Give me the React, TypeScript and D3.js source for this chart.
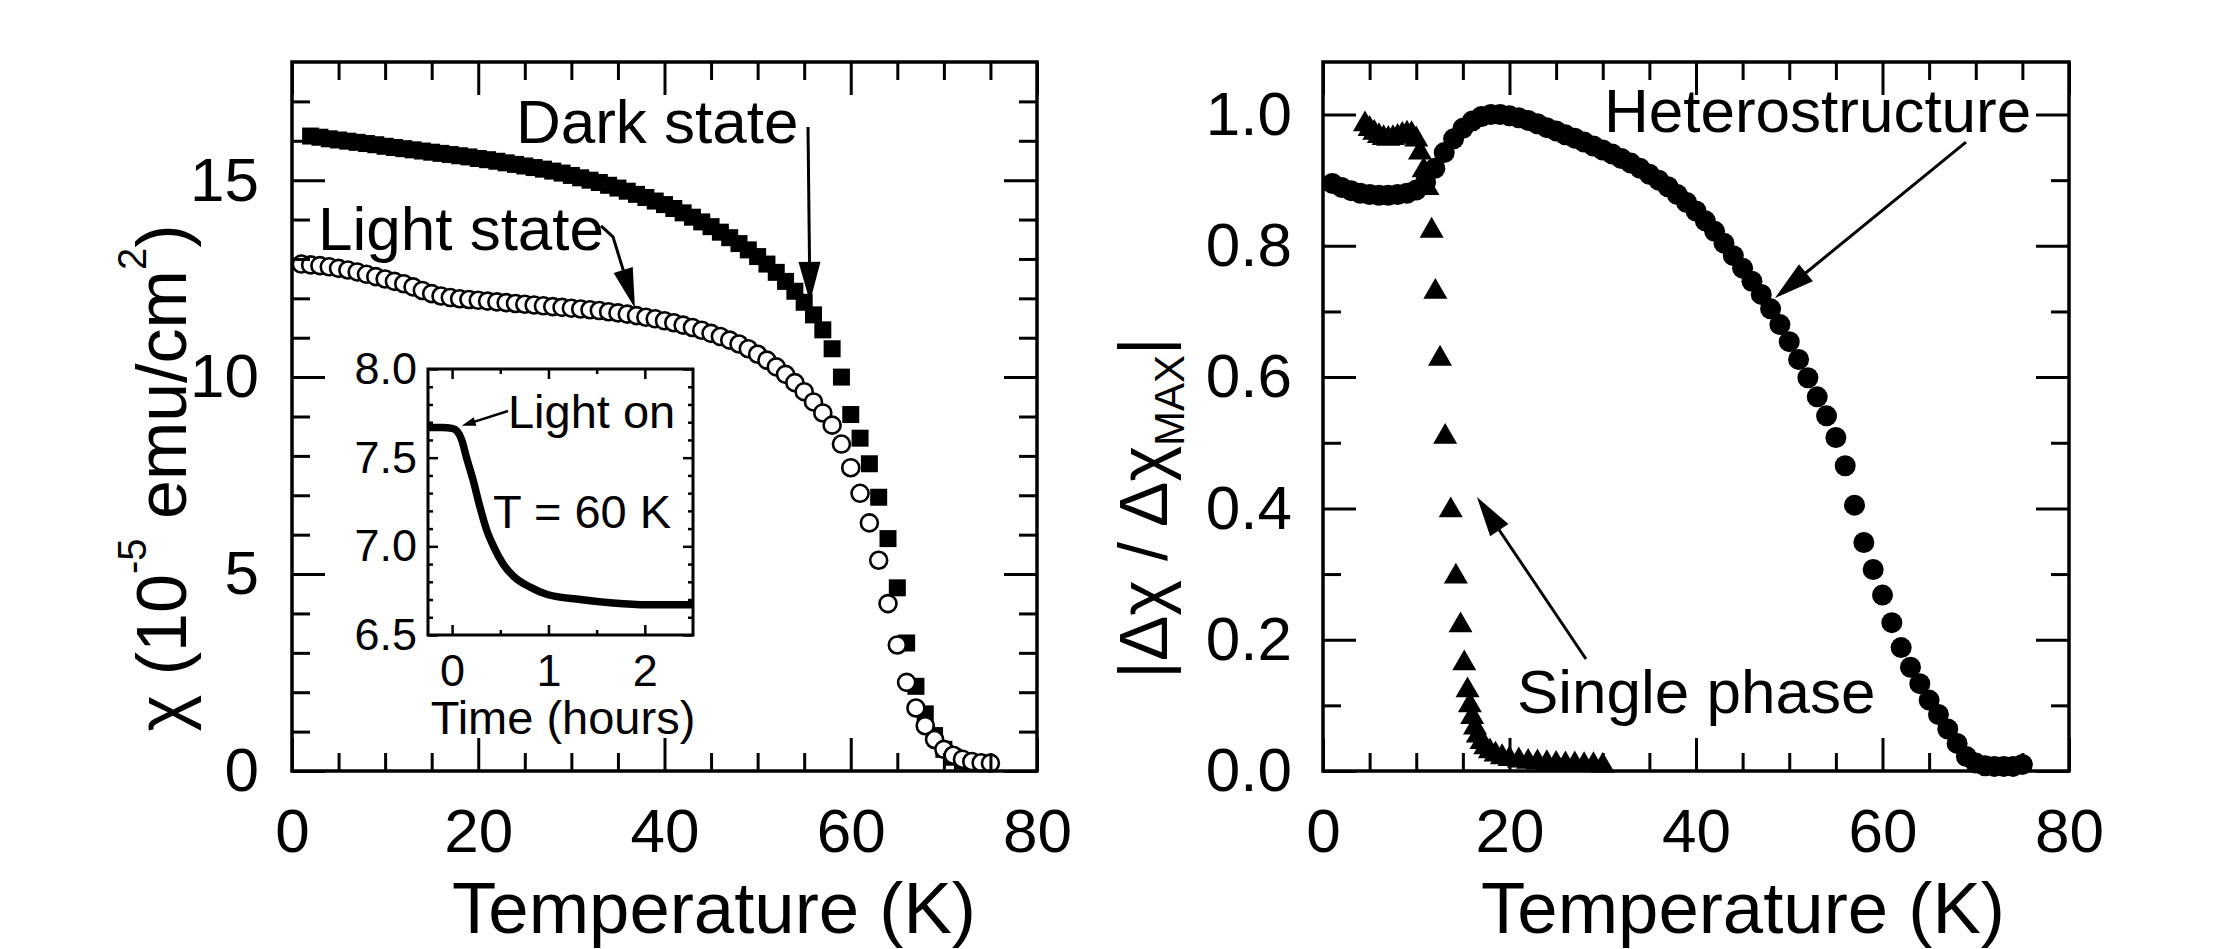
import React, { useRef, useEffect } from 'react';
import * as d3 from 'd3';

const W = 2213;
const H = 949;
const FONT = '"Liberation Sans", Arial, Helvetica, sans-serif';

// ---- left panel: chi vs T (dark / light state) ----
const darkT = [2, 3, 4, 5, 6, 7, 8, 9, 10, 11, 12, 13, 14, 15, 16, 17, 18, 19, 20, 21, 22, 23, 24, 25, 26, 27, 28, 29, 30,
  31, 32, 33, 34, 35, 36, 37, 38, 39, 40, 41, 42, 43, 44, 45, 46, 47, 48, 49, 50, 51, 52, 53, 54, 55, 56, 57, 58, 59, 60,
  61, 62, 63, 64, 65, 66, 67, 68, 69, 70, 71, 72, 73];
const darkChi = [16.12, 16.09, 16.05, 16.02, 15.99, 15.96, 15.93, 15.9, 15.86, 15.83, 15.8, 15.77, 15.74, 15.71, 15.68,
  15.65, 15.62, 15.59, 15.55, 15.52, 15.48, 15.44, 15.4, 15.36, 15.32, 15.28, 15.23, 15.18, 15.12, 15.06, 15.0, 14.94,
  14.87, 14.8, 14.72, 14.64, 14.56, 14.47, 14.38, 14.28, 14.17, 14.06, 13.94, 13.82, 13.68, 13.54, 13.39, 13.23, 13.06,
  12.87, 12.66, 12.43, 12.18, 11.9, 11.58, 11.2, 10.72, 10.0, 9.05, 8.45, 7.8, 6.95, 5.9, 4.65, 3.25, 2.15, 1.45, 0.9,
  0.55, 0.35, 0.25, 0.2];

const lightT = [1, 2, 3, 4, 5, 6, 7, 8, 9, 10, 11, 12, 13, 14, 15, 16, 17, 18, 19, 20, 21, 22, 23, 24, 25, 26, 27, 28, 29,
  30, 31, 32, 33, 34, 35, 36, 37, 38, 39, 40, 41, 42, 43, 44, 45, 46, 47, 48, 49, 50, 51, 52, 53, 54, 55, 56, 57, 58, 59,
  60, 61, 62, 63, 64, 65, 66, 67, 68, 69, 70, 71, 72, 73, 74, 75];
const lightChi = [12.87, 12.85, 12.83, 12.8, 12.76, 12.72, 12.67, 12.61, 12.55, 12.49, 12.43, 12.37, 12.29, 12.2, 12.12,
  12.06, 12.02, 11.99, 11.97, 11.95, 11.93, 11.91, 11.89, 11.87, 11.85, 11.83, 11.81, 11.79, 11.77, 11.75, 11.73, 11.71,
  11.69, 11.66, 11.63, 11.6, 11.56, 11.52, 11.48, 11.43, 11.38, 11.32, 11.26, 11.19, 11.11, 11.03, 10.94, 10.84, 10.72,
  10.58, 10.43, 10.26, 10.07, 9.86, 9.63, 9.37, 9.09, 8.78, 8.3, 7.7, 7.05, 6.3, 5.35, 4.25, 3.2, 2.25, 1.6, 1.15, 0.8,
  0.55, 0.4, 0.3, 0.24, 0.21, 0.2];

// ---- inset: chi vs time at 60 K ----
const insetHours = [-0.25, -0.1, 0.0, 0.05, 0.1, 0.15, 0.22, 0.29, 0.36, 0.43, 0.53, 0.64, 0.81, 0.98, 1.33, 1.67, 2.02, 2.5];
const insetChi = [7.67, 7.67, 7.665, 7.65, 7.6, 7.5, 7.37, 7.22, 7.09, 7.0, 6.9, 6.83, 6.77, 6.73, 6.7, 6.68, 6.67, 6.67];

// ---- right panel: normalized change ----
const heteroT = [1, 2, 3, 4, 5, 6, 7, 8, 9, 10, 11, 12, 13, 14, 15, 16, 17, 18, 19, 20, 21, 22, 23, 24, 25, 26, 27, 28, 29,
  30, 31, 32, 33, 34, 35, 36, 37, 38, 39, 40, 41, 42, 43, 44, 45, 46, 47, 48, 49, 50, 51, 52, 53, 54, 55, 56, 57, 58, 59,
  60, 61, 62, 63, 64, 65, 66, 67, 68, 69, 70, 71, 72, 73, 74, 75];
const heteroVal = [0.895, 0.889, 0.884, 0.88, 0.878, 0.877, 0.877, 0.878, 0.88, 0.885, 0.897, 0.918, 0.942, 0.963, 0.979,
  0.99, 0.997, 1.0, 1.0, 0.998, 0.995, 0.991, 0.986, 0.98, 0.975, 0.969, 0.964, 0.958, 0.952, 0.946, 0.94, 0.933, 0.926,
  0.918, 0.909, 0.9, 0.89, 0.878, 0.866, 0.853, 0.838, 0.822, 0.804, 0.785, 0.766, 0.746, 0.726, 0.704, 0.68, 0.654,
  0.627, 0.599, 0.57, 0.541, 0.508, 0.465, 0.405, 0.348, 0.307, 0.268, 0.226, 0.188, 0.158, 0.133, 0.108, 0.086, 0.064,
  0.042, 0.022, 0.012, 0.008, 0.007, 0.007, 0.007, 0.01];

const singleT = [4.5, 5, 5.5, 6, 6.5, 7, 7.5, 8, 8.5, 9, 9.5, 10, 10.4, 10.8, 11.2, 11.65, 12.05, 12.55, 13.1, 13.7, 14.25,
  14.75, 15.15, 15.5, 15.75, 16.0, 16.3, 16.6, 17.0, 17.4, 17.9, 18.5, 19.2, 20, 21, 22, 23, 24, 25, 26, 27, 28, 29, 30];
const singleVal = [0.985, 0.978, 0.972, 0.967, 0.964, 0.963, 0.964, 0.966, 0.969, 0.971, 0.97, 0.962, 0.942, 0.915, 0.888,
  0.823, 0.73, 0.628, 0.509, 0.397, 0.296, 0.222, 0.164, 0.123, 0.1, 0.082, 0.066, 0.054, 0.044, 0.036, 0.03, 0.025,
  0.021, 0.018, 0.016, 0.014, 0.013, 0.012, 0.011, 0.01, 0.01, 0.009, 0.009, 0.008];

// ticks
const tempMajor = [0, 20, 40, 60, 80];
const tempMinor = [5, 10, 15, 25, 30, 35, 45, 50, 55, 65, 70, 75];
const chiMajor = [0, 5, 10, 15];
const chiMinor = [1, 2, 3, 4, 6, 7, 8, 9, 11, 12, 13, 14, 16, 17];
const normMajor = [0, 0.2, 0.4, 0.6, 0.8, 1.0];
const normMinor = [0.1, 0.3, 0.5, 0.7, 0.9];
const hoursMajor = [0, 1, 2];
const hoursMinor = [0.5, 1.5];
const insetChiMajor = [6.5, 7.0, 7.5, 8.0];
const insetChiMinor = [6.6, 6.7, 6.8, 6.9, 7.1, 7.2, 7.3, 7.4, 7.6, 7.7, 7.8, 7.9];

type Sel = d3.Selection<any, any, any, any>;

function frameAxes(g: Sel, x: any, y: any, o: any) {
  const [x0, x1] = x.range();
  const [y0, y1] = y.range();
  const add = (axis: any, tr: string, labels: boolean) => {
    const a = g.append('g').attr('transform', tr).call(axis);
    a.select('.domain').remove();
    a.attr('font-family', FONT).attr('font-size', o.fs);
    a.selectAll('line').attr('stroke', '#000').attr('stroke-width', o.tw);
    a.selectAll('text').attr('fill', '#000');
    if (!labels) a.selectAll('text').remove();
    return a;
  };
  const none = () => '';
  add(d3.axisBottom(x).tickValues(o.xMinor).tickSize(-o.minor).tickFormat(none), `translate(0,${y0})`, false);
  add(d3.axisBottom(x).tickValues(o.xMajor).tickSize(-o.major).tickPadding(o.xPad).tickFormat(o.xFmt), `translate(0,${y0})`, true);
  add(d3.axisTop(x).tickValues(o.xMinor).tickSize(-o.minor).tickFormat(none), `translate(0,${y1})`, false);
  add(d3.axisTop(x).tickValues(o.xMajor).tickSize(-o.major).tickFormat(none), `translate(0,${y1})`, false);
  add(d3.axisLeft(y).tickValues(o.yMinor).tickSize(-o.minor).tickFormat(none), `translate(${x0},0)`, false);
  add(d3.axisLeft(y).tickValues(o.yMajor).tickSize(-o.major).tickPadding(o.yPad).tickFormat(o.yFmt), `translate(${x0},0)`, true);
  add(d3.axisRight(y).tickValues(o.yMinor).tickSize(-o.minor).tickFormat(none), `translate(${x1},0)`, false);
  add(d3.axisRight(y).tickValues(o.yMajor).tickSize(-o.major).tickFormat(none), `translate(${x1},0)`, false);
  g.append('rect')
    .attr('x', x0).attr('y', y1).attr('width', x1 - x0).attr('height', y0 - y1)
    .attr('fill', 'none').attr('stroke', '#000').attr('stroke-width', o.fw);
}

function arrow(g: Sel, pts: [number, number][], head: number, width: number, sw: number) {
  const n = pts.length;
  const [xa, ya] = pts[n - 2];
  const [xb, yb] = pts[n - 1];
  const ang = Math.atan2(yb - ya, xb - xa);
  const bx = xb - head * Math.cos(ang);
  const by = yb - head * Math.sin(ang);
  const line = pts.slice(0, n - 1).concat([[bx + Math.cos(ang) * 2, by + Math.sin(ang) * 2]]);
  g.append('path').attr('d', d3.line()(line as any)).attr('fill', 'none').attr('stroke', '#000').attr('stroke-width', sw);
  const px = -Math.sin(ang) * width / 2;
  const py = Math.cos(ang) * width / 2;
  g.append('path')
    .attr('d', `M${xb},${yb}L${bx + px},${by + py}L${bx - px},${by - py}Z`)
    .attr('fill', '#000');
}

function label(g: Sel, xp: number, yp: number, text: string, fs: number, anchor = 'start') {
  return g.append('text').attr('x', xp).attr('y', yp).attr('font-size', fs).attr('font-family', FONT)
    .attr('text-anchor', anchor).attr('fill', '#000').text(text);
}

export default function App() {
  const ref = useRef<SVGSVGElement>(null);

  useEffect(() => {
    const svg = d3.select(ref.current);
    svg.selectAll('*').remove();
    svg.append('rect').attr('width', W).attr('height', H).attr('fill', '#fff');

    const top = 62;
    const bottom = 771;
    const tickOpts = { major: 33, minor: 18, tw: 3, fw: 3.5, fs: 62, xPad: 37, yPad: 33, xFmt: d3.format('d') };

    // ---------- left panel ----------
    const xL = d3.scaleLinear().domain([0, 80]).range([292, 1037]);
    const yL = d3.scaleLinear().domain([0, 18]).range([bottom, top]);
    const gL = svg.append('g');

    const sq = d3.symbol().type(d3.symbolSquare).size(17 * 17);
    gL.append('g').selectAll('path').data(d3.zip(darkT, darkChi)).join('path')
      .attr('transform', (d: any) => `translate(${xL(d[0])},${yL(d[1])})`)
      .attr('d', sq as any).attr('fill', '#000');
    gL.append('g').selectAll('circle').data(d3.zip(lightT, lightChi)).join('circle')
      .attr('cx', (d: any) => xL(d[0])).attr('cy', (d: any) => yL(d[1])).attr('r', 8.5)
      .attr('fill', '#fff').attr('stroke', '#000').attr('stroke-width', 2.6);

    frameAxes(gL, xL, yL, { ...tickOpts, xMajor: tempMajor, xMinor: tempMinor, yMajor: chiMajor, yMinor: chiMinor, yFmt: d3.format('d') });

    label(gL, xL(24.05), yL(15.94), 'Dark state', 62);
    arrow(gL, [[xL(55.41), yL(16.35)], [xL(55.62), yL(11.91)]], 40, 22, 3);
    label(gL, xL(2.79), yL(13.23), 'Light state', 62);
    arrow(gL, [[xL(33.18), yL(13.84)], [xL(34.47), yL(13.56)], [xL(36.83), yL(11.75)]], 40, 20, 3);

    // inset
    const xI = d3.scaleLinear().domain([-0.25, 2.5]).range([428, 693]);
    const yI = d3.scaleLinear().domain([6.5, 8.0]).range([635, 369]);
    const gI = svg.append('g');
    gI.append('rect').attr('x', 428).attr('y', 369).attr('width', 265).attr('height', 266).attr('fill', '#fff');
    const lineI = d3.line<[number, number]>().x(d => xI(d[0])).y(d => yI(d[1])).curve(d3.curveMonotoneX);
    gI.append('path').attr('d', lineI(d3.zip(insetHours, insetChi) as any))
      .attr('fill', 'none').attr('stroke', '#000').attr('stroke-width', 7.5).attr('stroke-linejoin', 'round');
    frameAxes(gI, xI, yI, {
      major: 10, minor: 5, tw: 2.5, fw: 3, fs: 45, xPad: 19, yPad: 11,
      xMajor: hoursMajor, xMinor: hoursMinor, yMajor: insetChiMajor, yMinor: insetChiMinor,
      xFmt: d3.format('d'), yFmt: d3.format('.1f'),
    });
    label(gI, xI(0.58), yI(7.667), 'Light on', 47);
    arrow(gI, [[xI(0.58), yI(7.763)], [xI(0.1), yI(7.68)]], 14, 9, 2.5);
    label(gI, xI(0.425), yI(7.103), 'T = 60 K', 47);
    label(gI, 563, 734, 'Time (hours)', 47, 'middle');

    // axis titles left
    label(svg, 714, 933, 'Temperature (K)', 72.5, 'middle');
    const yt = svg.append('text').attr('transform', 'translate(186,478) rotate(-90)')
      .attr('text-anchor', 'middle').attr('font-family', FONT).attr('font-size', 70).attr('fill', '#000');
    yt.append('tspan').text('χ (10');
    yt.append('tspan').attr('font-size', 40).attr('dy', -40).text('-5');
    yt.append('tspan').attr('dy', 40).text(' emu/cm');
    yt.append('tspan').attr('font-size', 40).attr('dy', -40).text('2');
    yt.append('tspan').attr('dy', 40).text(')');

    // ---------- right panel ----------
    const xR = d3.scaleLinear().domain([0, 80]).range([1323, 2069]);
    const yR = d3.scaleLinear().domain([0, 1.08]).range([bottom, top]);
    const gR = svg.append('g');
    const circ = d3.symbol().type(d3.symbolCircle).size(Math.PI * 10.5 * 10.5);
    const tri = d3.symbol().type(d3.symbolTriangle).size(250);
    gR.append('g').selectAll('path').data(d3.zip(heteroT, heteroVal)).join('path')
      .attr('transform', (d: any) => `translate(${xR(d[0])},${yR(d[1])})`)
      .attr('d', circ as any).attr('fill', '#000');
    gR.append('g').selectAll('path').data(d3.zip(singleT, singleVal)).join('path')
      .attr('transform', (d: any) => `translate(${xR(d[0])},${yR(d[1])})`)
      .attr('d', tri as any).attr('fill', '#000');

    frameAxes(gR, xR, yR, { ...tickOpts, yPad: 31, xMajor: tempMajor, xMinor: tempMinor, yMajor: normMajor, yMinor: normMinor, yFmt: d3.format('.1f') });

    label(gR, xR(30.13), yR(0.974), 'Heterostructure', 62);
    arrow(gR, [[xR(68.95), yR(0.958)], [xR(48.47), yR(0.7205)]], 40, 22, 3);
    label(gR, xR(20.8), yR(0.0883), 'Single phase', 62);
    arrow(gR, [[xR(28.2), yR(0.1706)], [xR(16.51), yR(0.4174)]], 40, 22, 3);

    label(svg, 1743, 933, 'Temperature (K)', 72.5, 'middle');
    const yr = svg.append('text').attr('transform', 'translate(1167,508) rotate(-90)')
      .attr('text-anchor', 'middle').attr('font-family', FONT).attr('font-size', 68).attr('fill', '#000');
    yr.append('tspan').text('|Δχ / Δχ');
    yr.append('tspan').attr('font-size', 42).attr('dy', 17).text('MAX');
    yr.append('tspan').attr('dy', -17).text('|');
  }, []);

  return <svg ref={ref} width={W} height={H} style={{ position: 'absolute', left: 0, top: 0 }} />;
}
